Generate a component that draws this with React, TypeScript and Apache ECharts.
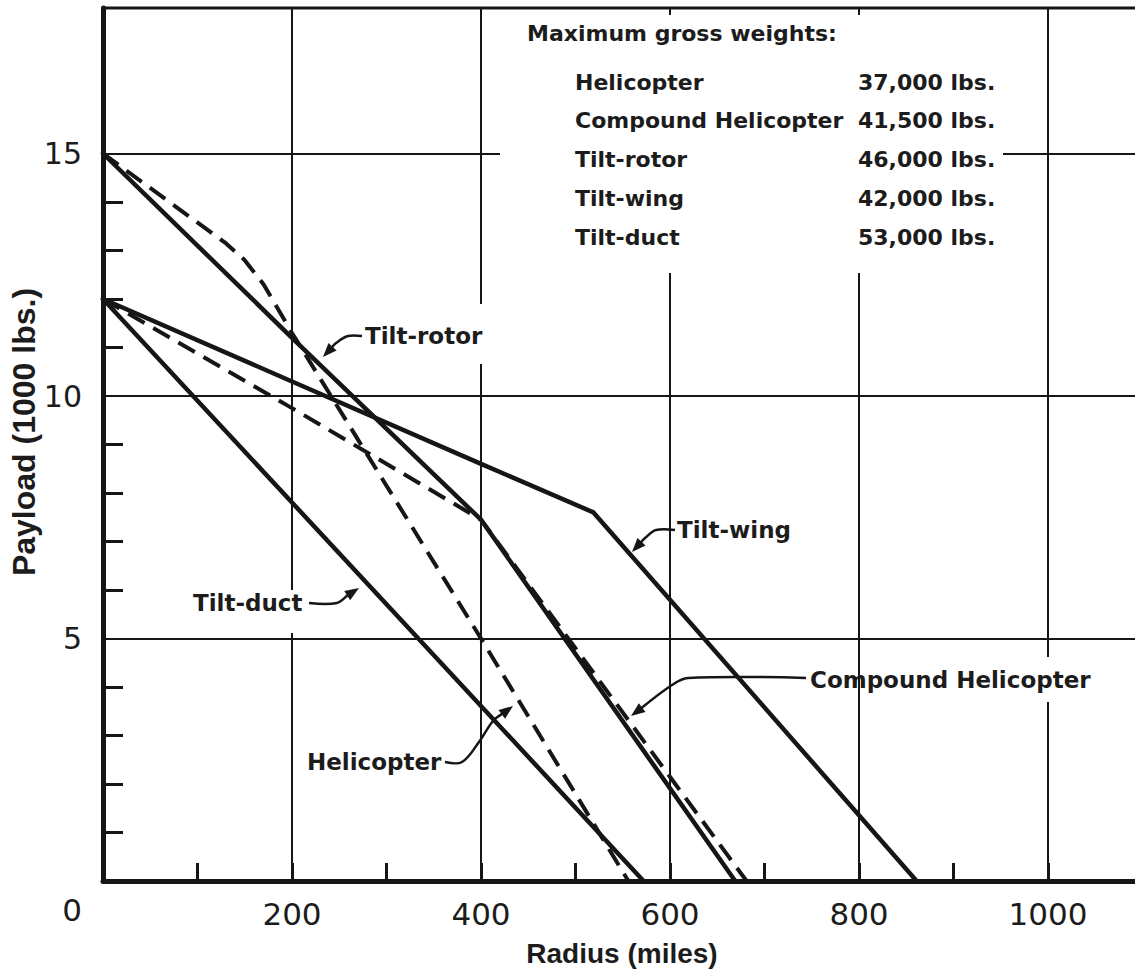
import React, { useEffect, useRef } from 'react';
import * as echarts from 'echarts';

const INK = '#161616';
const TEXT = '#1c1c1c';

// Payload (1000 lbs.) against radius (miles) for each configuration
const helicopterRadius = [0, 130, 150, 170, 200, 300, 400, 556];
const helicopterPayload = [15, 13.15, 12.8, 12.3, 11.3, 8.15, 5.0, 0];

const compoundRadius = [0, 200, 400, 681];
const compoundPayload = [12, 9.75, 7.45, 0];

const tiltRotorRadius = [0, 200, 400, 669];
const tiltRotorPayload = [15, 11.2, 7.45, 0];

const tiltWingRadius = [0, 200, 400, 519, 861];
const tiltWingPayload = [12, 10.3, 8.6, 7.6, 0];

const tiltDuctRadius = [0, 572];
const tiltDuctPayload = [12, 0];

// Axis ticks
const radiusLabels = [200, 400, 600, 800, 1000];
const payloadLabels = [5, 10, 15];
const payloadMinorTicks = [1, 2, 3, 4, 6, 7, 8, 9, 11, 12, 13, 14];

// Gross weight table
const weightNames = ['Helicopter', 'Compound Helicopter', 'Tilt-rotor', 'Tilt-wing', 'Tilt-duct'];
const weightValues = ['37,000 lbs.', '41,500 lbs.', '46,000 lbs.', '42,000 lbs.', '53,000 lbs.'];

const pairs = (xs: number[], ys: number[]) => xs.map((x, i) => [x, ys[i]]);

const solidLine = (name: string, data: number[][]) => ({
  name,
  type: 'line',
  data,
  symbol: 'none',
  showSymbol: false,
  z: 3,
  lineStyle: { color: INK, width: 4.5, cap: 'round', join: 'round' },
});

const dashedLine = (name: string, data: number[][]) => ({
  name,
  type: 'line',
  data,
  symbol: 'none',
  showSymbol: false,
  z: 3,
  lineStyle: { color: INK, width: 4, type: [19, 10], join: 'round' },
});

// Leader line ending in a filled arrowhead
function leader(points: number[][], head = 14, half = 5.5) {
  const n = points.length;
  const tip = points[n - 1];
  const prev = points[n - 2];
  const dx = tip[0] - prev[0];
  const dy = tip[1] - prev[1];
  const len = Math.hypot(dx, dy);
  const ux = dx / len;
  const uy = dy / len;
  const bx = tip[0] - ux * head;
  const by = tip[1] - uy * head;
  const px = -uy * half;
  const py = ux * half;
  return [
    {
      type: 'polyline',
      z: 20,
      shape: { points: [...points.slice(0, n - 1), [bx + ux * 2, by + uy * 2]], smooth: 0.35 },
      style: { stroke: INK, lineWidth: 2.5, fill: 'none' },
    },
    {
      type: 'polygon',
      z: 20,
      shape: { points: [tip, [bx + px, by + py], [bx - px, by - py]] },
      style: { fill: INK },
    },
  ];
}

const text = (
  content: string,
  x: number,
  y: number,
  size: number,
  family = 'DejaVu Sans',
  weight: string = 'bold',
  align = 'left',
  rotation = 0
) => ({
  type: 'text',
  x,
  y,
  rotation,
  z: 21,
  style: {
    text: content,
    fill: TEXT,
    fontSize: size,
    fontFamily: family,
    fontWeight: weight,
    align,
    textAlign: align,
    verticalAlign: 'middle',
    textVerticalAlign: 'middle',
  },
});

const blank = (x: number, y: number, width: number, height: number) => ({
  type: 'rect',
  z: 15,
  shape: { x, y, width, height },
  style: { fill: '#ffffff' },
});

function buildOption() {
  const tableRows: any[] = [];
  weightNames.forEach((name, i) => {
    const y = 82 + i * 38.8;
    tableRows.push(text(name, 575, y, 22));
    tableRows.push(text(weightValues[i], 858, y, 22));
  });

  return {
    animation: false,
    backgroundColor: '#ffffff',
    grid: {
      left: 103,
      top: 8,
      width: 1039.5,
      height: 873,
      show: true,
      borderColor: INK,
      borderWidth: 3,
      backgroundColor: 'transparent',
      containLabel: false,
      outerBoundsMode: 'none',
    },
    xAxis: {
      type: 'value',
      min: 0,
      max: 1100,
      interval: 200,
      axisLine: { show: true, onZero: false, lineStyle: { color: INK, width: 5 } },
      axisTick: { show: true, inside: true, length: 18, lineStyle: { color: INK, width: 3 } },
      minorTick: { show: true, splitNumber: 2, length: 18, lineStyle: { color: INK, width: 3 } },
      splitLine: { show: true, lineStyle: { color: INK, width: 2 } },
      axisLabel: {
        margin: 17,
        fontFamily: 'DejaVu Sans',
        fontSize: 31,
        color: TEXT,
        formatter: (v: number) => (radiusLabels.includes(v) ? String(v) : ''),
      },
    },
    yAxis: [
      {
        type: 'value',
        min: 0,
        max: 18,
        interval: 5,
        axisLine: { show: true, onZero: false, lineStyle: { color: INK, width: 5 } },
        axisTick: { show: false },
        splitLine: { show: true, lineStyle: { color: INK, width: 2 } },
        axisLabel: {
          margin: 21,
          fontFamily: 'DejaVu Sans',
          fontSize: 30,
          color: TEXT,
          formatter: (v: number) => (payloadLabels.includes(v) ? String(v) : ''),
        },
      },
      {
        type: 'value',
        min: 0,
        max: 18,
        interval: 1,
        position: 'left',
        axisLine: { show: false },
        axisLabel: { show: false },
        splitLine: { show: false },
        axisTick: {
          show: true,
          inside: true,
          length: 20,
          customValues: payloadMinorTicks,
          lineStyle: { color: INK, width: 3 },
        },
      },
    ],
    series: [
      dashedLine('Helicopter', pairs(helicopterRadius, helicopterPayload)),
      dashedLine('Compound Helicopter', pairs(compoundRadius, compoundPayload)),
      solidLine('Tilt-rotor', pairs(tiltRotorRadius, tiltRotorPayload)),
      solidLine('Tilt-wing', pairs(tiltWingRadius, tiltWingPayload)),
      solidLine('Tilt-duct', pairs(tiltDuctRadius, tiltDuctPayload)),
    ],
    graphic: [
      // breaks in the grid behind the lettering
      blank(500, 15, 503, 258),
      blank(470, 304, 18, 60),
      blank(284, 590, 16, 43),
      blank(1039, 657, 16, 45),

      // axis titles and corner zero
      text('Payload (1000 lbs.)', 24, 432, 32, 'Liberation Sans', 'bold', 'center', Math.PI / 2),
      text('Radius (miles)', 622, 953, 28, 'Liberation Sans', 'bold', 'center'),
      text('0', 72, 910, 31, 'DejaVu Sans', 'normal', 'center'),

      // gross weight table
      text('Maximum gross weights:', 527, 33, 22),
      ...tableRows,

      // curve call-outs
      text('Tilt-rotor', 365, 336, 23),
      ...leader([[362, 336], [348, 336], [336, 343], [323, 357]]),
      text('Tilt-wing', 677, 530, 23),
      ...leader([[675, 530], [656, 530], [645, 538], [632, 552]]),
      text('Tilt-duct', 193, 603, 23),
      ...leader([[309, 603], [337, 603], [348, 595], [359, 588]]),
      text('Helicopter', 307, 762, 23),
      ...leader([[445, 762], [462, 762], [479, 742], [493, 721], [513, 706]]),
      text('Compound Helicopter', 810, 680, 23),
      ...leader([[806, 678], [688, 678], [672, 685], [631, 716]]),
    ],
  };
}

export default function App() {
  const ref = useRef<HTMLDivElement>(null);

  useEffect(() => {
    if (!ref.current) return;
    const chart = echarts.init(ref.current, null, { renderer: 'svg' });
    chart.setOption(buildOption() as any);
    return () => chart.dispose();
  }, []);

  return (
    <div
      ref={ref}
      style={{ position: 'fixed', left: 0, top: 0, width: 1135, height: 973, background: '#ffffff' }}
    />
  );
}
